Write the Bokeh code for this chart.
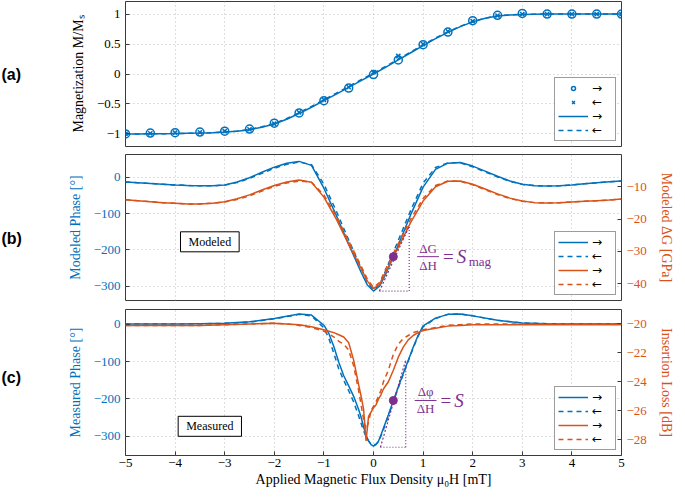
from bokeh.plotting import figure
from bokeh.models import (Range1d, LinearAxis, Label, Legend, LegendItem,
                          CustomJSTickFormatter, FixedTicker)
from bokeh.layouts import column, row
from bokeh.embed import file_html
from bokeh.resources import INLINE

BLUE = "#0072BD"
ORANGE = "#D95319"
PURPLE = "#7E2F8E"
SERIF = "Liberation Serif"
SANS = "Liberation Sans"

# ---------------- data ----------------
X_TICKS = [-5, -4, -3, -2, -1, 0, 1, 2, 3, 4, 5]
PANEL_TAGS = ["(a)", "(b)", "(c)"]

# (a) magnetization
MA_X = [-5.0, -4.5, -4.0, -3.5, -3.0, -2.5, -2.0, -1.5, -1.0, -0.5, 0.0,
        0.5, 1.0, 1.5, 2.0, 2.5, 3.0, 3.5, 4.0, 4.5, 5.0]
MA_UP = [-1.0, -0.985, -0.98, -0.97, -0.955, -0.92, -0.82, -0.65, -0.445, -0.235, -0.01,
         0.235, 0.49, 0.70, 0.89, 0.98, 1.01, 1.0, 1.0, 1.0, 1.0]
MA_DN = [-1.0, -0.99, -0.98, -0.975, -0.955, -0.925, -0.83, -0.64, -0.43, -0.22, 0.03,
         0.30, 0.50, 0.71, 0.88, 0.975, 1.0, 1.0, 1.0, 1.0, 1.0]
LA_X = [-5.0, -4.75, -4.5, -4.25, -4.0, -3.75, -3.5, -3.25, -3.0, -2.75, -2.5, -2.25,
        -2.0, -1.75, -1.5, -1.25, -1.0, -0.75, -0.5, -0.25, 0.0, 0.25, 0.5, 0.75,
        1.0, 1.25, 1.5, 1.75, 2.0, 2.25, 2.5, 2.75, 3.0, 3.25, 3.5, 3.75, 4.0, 4.25,
        4.5, 4.75, 5.0]
LA_UP = [-1.0, -1.0, -0.998, -0.996, -0.994, -0.99, -0.986, -0.98, -0.97, -0.955, -0.93,
         -0.89, -0.835, -0.755, -0.66, -0.555, -0.445, -0.335, -0.222, -0.11, 0.0, 0.115,
         0.235, 0.355, 0.475, 0.59, 0.695, 0.79, 0.87, 0.93, 0.968, 0.986, 0.995, 0.999,
         1.0, 1.0, 1.0, 1.0, 1.0, 1.0, 1.0]
LA_DN = [-1.0, -1.0, -0.998, -0.996, -0.994, -0.99, -0.986, -0.98, -0.97, -0.953, -0.925,
         -0.882, -0.825, -0.743, -0.647, -0.54, -0.43, -0.32, -0.207, -0.095, 0.015, 0.13,
         0.25, 0.368, 0.487, 0.6, 0.703, 0.797, 0.875, 0.933, 0.97, 0.987, 0.996, 0.999,
         1.0, 1.0, 1.0, 1.0, 1.0, 1.0, 1.0]

# (b) modeled
XB = [-5, -4.75, -4.5, -4.25, -4, -3.75, -3.5, -3.25, -3, -2.75, -2.5, -2.25, -2, -1.75,
      -1.5, -1.25, -1, -0.75, -0.5, -0.25, -0.125, 0, 0.125, 0.25, 0.5, 0.75, 1, 1.25,
      1.5, 1.75, 2, 2.25, 2.5, 2.75, 3, 3.25, 3.5, 3.75, 4, 4.25, 4.5, 4.75, 5]
PB_UP = [-13, -15, -17, -19, -21, -22.5, -23.5, -23.5, -21, -13, -1, 14, 28, 39, 44, 33,
         -30, -105, -185, -262, -297, -314, -300, -266, -187, -103, -27, 22, 39, 41, 31,
         17, 3, -10, -19, -23, -24, -23.5, -21, -18, -15, -12.5, -10]
PB_DN = [-13, -15, -17, -19, -21, -22.5, -23.5, -23.5, -21.5, -14.5, -3, 11, 25, 36, 42, 35,
         -19, -93, -173, -251, -289, -311, -296, -256, -174, -91, -16, 27, 40, 40, 29,
         15, 1, -11, -19.5, -23, -24, -23.5, -21, -18, -15, -12.5, -10]
GB_UP = [-14, -14.3, -14.6, -14.9, -15.1, -15.3, -15.3, -15.1, -14.6, -13.7, -12.5, -11.0,
         -9.6, -8.5, -7.9, -8.6, -13.2, -20.0, -27.8, -35.3, -39.2, -41.5, -40.2, -36.3,
         -28.7, -21.0, -14.4, -10.0, -8.3, -8.2, -9.2, -10.7, -12.2, -13.5, -14.4, -14.9,
         -15.0, -14.9, -14.7, -14.5, -14.3, -14.1, -13.8]
GB_DN = [-14, -14.3, -14.6, -14.9, -15.1, -15.3, -15.3, -15.1, -14.7, -13.9, -12.8, -11.3,
         -9.9, -8.8, -8.2, -8.6, -12.5, -19.1, -26.8, -34.5, -38.6, -41.1, -39.6, -35.3,
         -27.6, -20.0, -13.6, -9.6, -8.2, -8.3, -9.4, -10.9, -12.4, -13.6, -14.5, -14.9,
         -15.0, -14.9, -14.7, -14.5, -14.3, -14.1, -13.8]

# (c) measured
XC = [-5, -4.5, -4, -3.5, -3, -2.5, -2, -1.75, -1.5, -1.25, -1, -0.9, -0.8, -0.7, -0.6,
      -0.5, -0.4, -0.3, -0.25, -0.2, -0.15, -0.1, -0.05, 0, 0.05, 0.1, 0.15, 0.2, 0.3,
      0.4, 0.5, 0.6, 0.7, 0.8, 0.9, 1.0, 1.25, 1.5, 1.75, 2, 2.5, 3, 3.5, 4, 4.5, 5]
PC_UP = [0, 0, 0, 1, 2, 6, 15, 21, 27, 24, -3, -25, -60, -102, -138, -165, -193, -228,
         -249, -274, -297, -312, -322, -326, -322, -313, -296, -278, -242, -205, -168,
         -132, -97, -62, -30, -5, 16, 26, 27, 22, 10, 3, 1, 0, 0, 0]
PC_DN = [0, 0, 0, 1, 2, 5, 14, 20, 26, 22, -10, -38, -78, -120, -150, -178, -208, -245,
         -265, -285, -300, -312, -320, -323, -321, -314, -299, -282, -245, -208, -170,
         -134, -99, -64, -32, -7, 15, 26, 27, 22, 10, 3, 1, 0, 0, 0]
LC_UP = [-20.1, -20.1, -20.1, -20.1, -20.05, -20.0, -19.95, -20.0, -20.05, -20.2, -20.4,
         -20.5, -20.6, -20.75, -20.9, -21.3, -22.5, -24.2, -25.0, -25.9, -28.1, -26.4,
         -26.1, -25.8, -25.6, -25.2, -24.9, -24.5, -24.0, -23.2, -22.3, -21.6, -21.1,
         -20.8, -20.6, -20.45, -20.3, -20.15, -20.1, -20.05, -20.05, -20.05, -20.05,
         -20.05, -20.05, -20.05]
LC_DN = [-20.1, -20.1, -20.1, -20.1, -20.05, -20.0, -19.95, -20.0, -20.1, -20.25, -20.5,
         -20.7, -20.9, -21.2, -21.4, -21.8, -22.9, -24.6, -25.6, -26.6, -27.3, -26.8,
         -26.0, -25.7, -25.4, -25.0, -24.6, -24.0, -23.2, -22.1, -21.4, -21.0, -20.8,
         -20.6, -20.5, -20.4, -20.25, -20.1, -20.05, -20.0, -20.0, -20.0, -20.0, -20.0,
         -20.0, -20.0]

# slope markers (operating points)
B_DOT = (0.4, -219)
C_DOT = (0.4, -204)

# ---------------- helpers ----------------
FW = 496
TAG_W = 30
MINUS = CustomJSTickFormatter(code="return (tick < 0 ? '\u2212' : '') + Math.abs(tick).toString();")


def base(fh, yr, top, bottom, yticks, ylabel, ycolor, show_x=False):
    p = figure(frame_width=FW, frame_height=fh, x_range=Range1d(-5, 5),
               y_range=Range1d(*yr), output_backend="svg", toolbar_location=None,
               min_border_left=125 - TAG_W, min_border_right=48,
               min_border_top=top, min_border_bottom=bottom)
    p.outline_line_color = "#3a3a3a"
    p.outline_line_width = 1
    for g in (p.xgrid, p.ygrid):
        g.grid_line_color = "#bdbdbd"
        g.grid_line_dash = "1 3"
        g.grid_line_width = 1
    p.xaxis.ticker = FixedTicker(ticks=X_TICKS)
    p.xgrid.ticker = FixedTicker(ticks=X_TICKS)
    if show_x:
        ax = p.xaxis[0]
        ax.formatter = MINUS
        ax.major_tick_in = 4
        ax.major_tick_out = 0
        ax.minor_tick_line_color = None
        ax.axis_line_color = None
        ax.major_tick_line_color = "#3a3a3a"
        ax.major_label_text_font = SERIF
        ax.major_label_text_font_size = "13px"
        ax.major_label_text_color = "black"
        ax.major_label_standoff = 3
        ax.axis_label = "Applied Magnetic Flux Density \u03bc\u2080H [mT]"
        ax.axis_label_text_font = SERIF
        ax.axis_label_text_font_style = "normal"
        ax.axis_label_text_font_size = "14px"
        ax.axis_label_text_color = "black"
        ax.axis_label_standoff = 2
    else:
        p.xaxis.visible = False
    ly = p.yaxis[0]
    ly.ticker = FixedTicker(ticks=yticks)
    p.ygrid.ticker = FixedTicker(ticks=yticks)
    ly.formatter = MINUS
    ly.major_tick_in = 4
    ly.major_tick_out = 0
    ly.minor_tick_line_color = None
    ly.axis_line_color = None
    ly.major_tick_line_color = "#3a3a3a"
    ly.major_label_text_font = SERIF
    ly.major_label_text_font_size = "13px"
    ly.major_label_text_color = ycolor
    ly.major_label_standoff = 5
    ly.axis_label = ylabel
    ly.axis_label_text_font = SERIF
    ly.axis_label_text_font_style = "normal"
    ly.axis_label_text_font_size = "14px"
    ly.axis_label_text_color = ycolor
    ly.axis_label_standoff = 8
    return p


def right_axis(p, yr, ticks, label):
    p.extra_y_ranges = {"r": Range1d(*yr)}
    ax = LinearAxis(y_range_name="r", ticker=FixedTicker(ticks=ticks), formatter=MINUS)
    ax.major_tick_in = 4
    ax.major_tick_out = 0
    ax.minor_tick_line_color = None
    ax.axis_line_color = None
    ax.major_tick_line_color = "#3a3a3a"
    ax.major_label_text_font = SERIF
    ax.major_label_text_font_size = "13px"
    ax.major_label_text_color = ORANGE
    ax.major_label_standoff = 5
    ax.axis_label = label
    ax.axis_label_text_font = SERIF
    ax.axis_label_text_font_style = "normal"
    ax.axis_label_text_font_size = "14px"
    ax.axis_label_text_color = ORANGE
    ax.axis_label_standoff = 9
    p.add_layout(ax, "right")


def legend(p, items):
    lg = Legend(items=[LegendItem(label=t, renderers=[r]) for t, r in items],
                location="bottom_right", margin=5, padding=3, spacing=0,
                label_height=10, glyph_height=10, glyph_width=30, label_standoff=4,
                border_line_color="#3a3a3a", border_line_width=1,
                background_fill_color="white", background_fill_alpha=1.0,
                label_text_font="DejaVu Sans", label_text_font_size="12px",
                label_text_line_height=0.8,
                label_text_color="black")
    p.add_layout(lg)


def box_label(p, x, y, text):
    p.add_layout(Label(x=x, y=y, text=text, text_font=SERIF, text_font_size="12px",
                       text_align="center", text_baseline="middle", text_color="black",
                       border_line_color="black", border_line_width=1,
                       background_fill_color="white",
                       padding=dict(left=8, right=8, top=3, bottom=3)))


def slope_note(p, dot, tri, xc, num, sub):
    x0, x1, ybot, ytop = tri
    p.line([x0, x1], [ybot, ybot], line_color=PURPLE, line_dash="1 2", line_width=1.2)
    p.line([x1, x1], [ybot, ytop], line_color=PURPLE, line_dash="1 2", line_width=1.2)
    p.line([x0, x1], [ybot, ytop], line_color=PURPLE, line_dash="2 2", line_width=1.2)
    p.scatter([dot[0]], [dot[1]], size=8, marker="circle", color=PURPLE)
    y = dot[1]
    common = dict(text_font=SERIF, text_color=PURPLE)
    p.add_layout(Label(x=xc, y=y, text=num, text_align="center", text_baseline="bottom",
                       y_offset=1, text_font_size="13px", **common))
    p.add_layout(Label(x=xc, y=y, text="\u0394H", text_align="center", text_baseline="top",
                       y_offset=-1, text_font_size="13px", **common))
    p.line([xc - 0.22, xc + 0.22], [y, y], line_color=PURPLE, line_width=1)
    p.add_layout(Label(x=xc + 0.3, y=y, text="=", text_align="left", text_baseline="middle",
                       text_font_size="19px", **common))
    p.add_layout(Label(x=xc + 0.58, y=y, text="S", text_align="left", text_baseline="middle",
                       text_font_size="19px", text_font_style="italic", **common))
    if sub:
        p.add_layout(Label(x=xc + 0.82, y=y, text=sub, text_align="left",
                           text_baseline="middle", y_offset=-5, text_font_size="13px",
                           **common))


# ---------------- (a) ----------------
pa = base(145, (-1.21, 1.21), 1, 4, [-1, -0.5, 0, 0.5, 1],
          "Magnetization M/M\u209b", "black")
r_o = pa.scatter(MA_X, MA_UP, marker="circle", size=8, fill_color=None,
                 line_color=BLUE, line_width=1.5)
r_x = pa.scatter(MA_X, MA_DN, marker="x", size=6, line_color=BLUE, line_width=1.5)
r_l1 = pa.line(LA_X, LA_UP, line_color=BLUE, line_width=1.5)
r_l2 = pa.line(LA_X, LA_DN, line_color=BLUE, line_width=1.5, line_dash="5 4")
legend(pa, [("\u2192", r_o), ("\u2190", r_x), ("\u2192", r_l1), ("\u2190", r_l2)])

# ---------------- (b) ----------------
pb = base(146, (-340, 63), 4, 4, [0, -100, -200, -300], "Modeled Phase [\u00b0]", BLUE)
right_axis(pb, (-45.2, 0), [-10, -20, -30, -40], "Modeled \u0394G [GPa]")
rb1 = pb.line(XB, PB_UP, line_color=BLUE, line_width=1.5)
rb2 = pb.line(XB, PB_DN, line_color=BLUE, line_width=1.5, line_dash="5 4")
rb3 = pb.line(XB, GB_UP, line_color=ORANGE, line_width=1.5, y_range_name="r")
rb4 = pb.line(XB, GB_DN, line_color=ORANGE, line_width=1.5, line_dash="5 4", y_range_name="r")
slope_note(pb, B_DOT, (0.12, 0.72, -314, -135), 1.1, "\u0394G", "mag")
box_label(pb, -3.3, -178, "Modeled")
legend(pb, [("\u2192", rb1), ("\u2190", rb2), ("\u2192", rb3), ("\u2190", rb4)])

# ---------------- (c) ----------------
pc = base(146, (-351, 39), 5, 33, [0, -100, -200, -300], "Measured Phase [\u00b0]", BLUE,
          show_x=True)
right_axis(pc, (-29.1, -19.0), [-20, -22, -24, -26, -28], "Insertion Loss [dB]")
rc1 = pc.line(XC, PC_UP, line_color=BLUE, line_width=1.5)
rc2 = pc.line(XC, PC_DN, line_color=BLUE, line_width=1.5, line_dash="5 4")
rc3 = pc.line(XC, LC_UP, line_color=ORANGE, line_width=1.5, y_range_name="r")
rc4 = pc.line(XC, LC_DN, line_color=ORANGE, line_width=1.5, line_dash="5 4", y_range_name="r")
slope_note(pc, C_DOT, (0.14, 0.65, -329, -96), 1.05, "\u0394\u03c6", None)
box_label(pc, -3.3, -273, "Measured")
legend(pc, [("\u2192", rc1), ("\u2190", rc2), ("\u2192", rc3), ("\u2190", rc4)])

# ---------------- panel tags (narrow strip on the left) ----------------
TAG_H = 488
tag = figure(width=TAG_W, height=TAG_H, x_range=Range1d(0, TAG_W), y_range=Range1d(0, TAG_H),
             output_backend="svg", toolbar_location=None,
             min_border_left=0, min_border_right=0, min_border_top=0, min_border_bottom=0)
tag.axis.visible = False
tag.grid.visible = False
tag.outline_line_color = None
for t, yy in zip(PANEL_TAGS, [414, 250, 111]):
    tag.add_layout(Label(x=1, y=yy, text=t, text_font=SANS, text_font_style="bold",
                         text_font_size="16px", text_baseline="middle", text_align="left",
                         text_color="black"))

layout = row(tag, column(pa, pb, pc))
open("out.html", "w").write(file_html(layout, INLINE))
